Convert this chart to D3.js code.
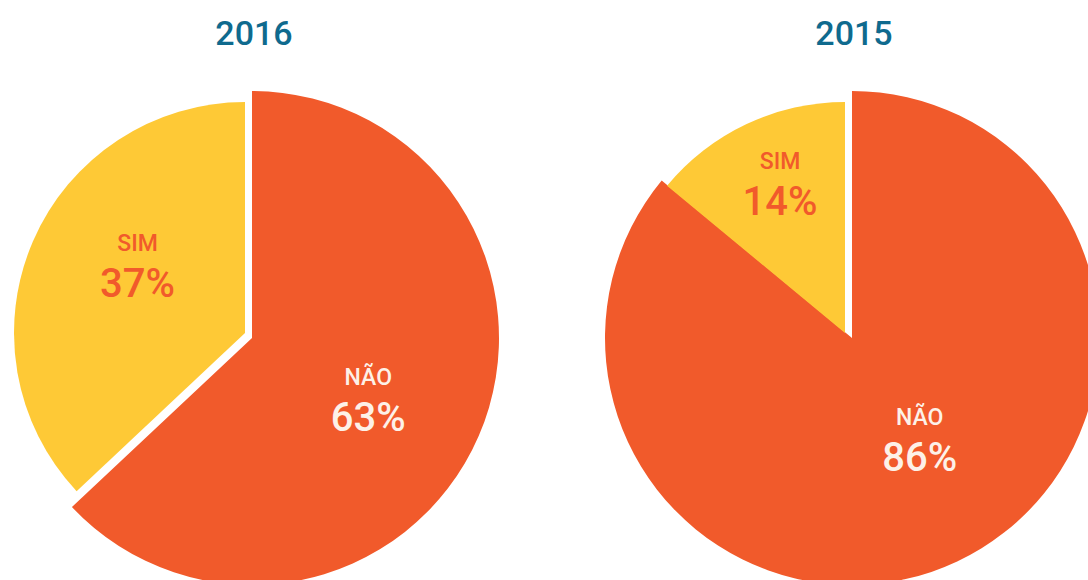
<!DOCTYPE html>
<meta charset="utf-8">
<script src="https://cdn.jsdelivr.net/npm/d3@7"></script>
<style>
body {
  margin: 0;
  background: #fff;
}
svg {
  display: block;
  font-family: Roboto, "DejaVu Sans", sans-serif;
}
.title {
  fill: #0f6a8e;
  font-size: 34px;
  font-weight: 500;
  text-anchor: middle;
}
.label text {
  text-anchor: middle;
}
</style>
<body>
<div class="chart"></div>
<script>

// data
var years = ["2016", "2015"];
var categories = ["NÃO", "SIM"];
var values2016 = [63, 37];
var values2015 = [86, 14];
var seriesValues = [values2016, values2015];

// layout
var width = 1088,
    height = 580;
var centersX = [252, 852],
    centerY = 338;
var bigRadius = 247,   // NÃO slice
    smallRadius = 231, // SIM slice, pulled in
    pullX = -7,
    pullY = -5;

var color = d3.scaleOrdinal()
    .domain(categories)
    .range(["#f15a2b", "#fec936"]);

var textColor = d3.scaleOrdinal()
    .domain(categories)
    .range(["#fdf1e8", "#f15a2b"]);

// small tweak of label spot per slice (fraction of radius, angle shift in degrees)
var labelSpot = {
  "2016": {"NÃO": [0.535, 5], "SIM": [0.545, 8]},
  "2015": {"NÃO": [0.5, -8], "SIM": [0.70, 1.5]}
};

var svg = d3.select(".chart").append("svg")
    .attr("width", width)
    .attr("height", height);

var pie = d3.pie()
    .sort(null)
    .value(function(d) { return d.value; });

years.forEach(function(year, k) {
  var rows = categories.map(function(c, i) {
    return {cat: c, value: seriesValues[k][i]};
  });
  var arcs = pie(rows);
  var cx = centersX[k];

  // title
  svg.append("text")
      .attr("class", "title")
      .attr("x", cx + 2)
      .attr("y", 45)
      .text(year);

  var g = svg.append("g");

  g.selectAll("path")
    .data(arcs)
    .enter().append("path")
      .attr("transform", function(d) {
        return d.data.cat == "SIM"
          ? "translate(" + (cx + pullX) + "," + (centerY + pullY) + ")"
          : "translate(" + cx + "," + centerY + ")";
      })
      .attr("d", function(d) {
        var r = d.data.cat == "SIM" ? smallRadius : bigRadius;
        return d3.arc().innerRadius(0).outerRadius(r)(d);
      })
      .attr("fill", function(d) { return color(d.data.cat); });

  // labels
  var label = g.selectAll(".label")
    .data(arcs)
    .enter().append("g")
      .attr("class", "label")
      .attr("transform", function(d) {
        var isSim = d.data.cat == "SIM";
        var r = isSim ? smallRadius : bigRadius;
        var spot = labelSpot[year][d.data.cat];
        var a = (d.startAngle + d.endAngle) / 2 + spot[1] * Math.PI / 180;
        var ox = isSim ? cx + pullX : cx;
        var oy = isSim ? centerY + pullY : centerY;
        var x = ox + Math.sin(a) * r * spot[0];
        var y = oy - Math.cos(a) * r * spot[0];
        return "translate(" + x + "," + y + ")";
      });

  label.append("text")
      .attr("y", -16)
      .attr("font-size", 23)
      .attr("font-weight", 500)
      .attr("fill", function(d) { return textColor(d.data.cat); })
      .text(function(d) { return d.data.cat; });

  label.append("text")
      .attr("y", 30)
      .attr("font-size", 40)
      .attr("font-weight", 500)
      .attr("fill", function(d) { return textColor(d.data.cat); })
      .text(function(d) { return d.data.value + "%"; });
});

</script>
</body>
